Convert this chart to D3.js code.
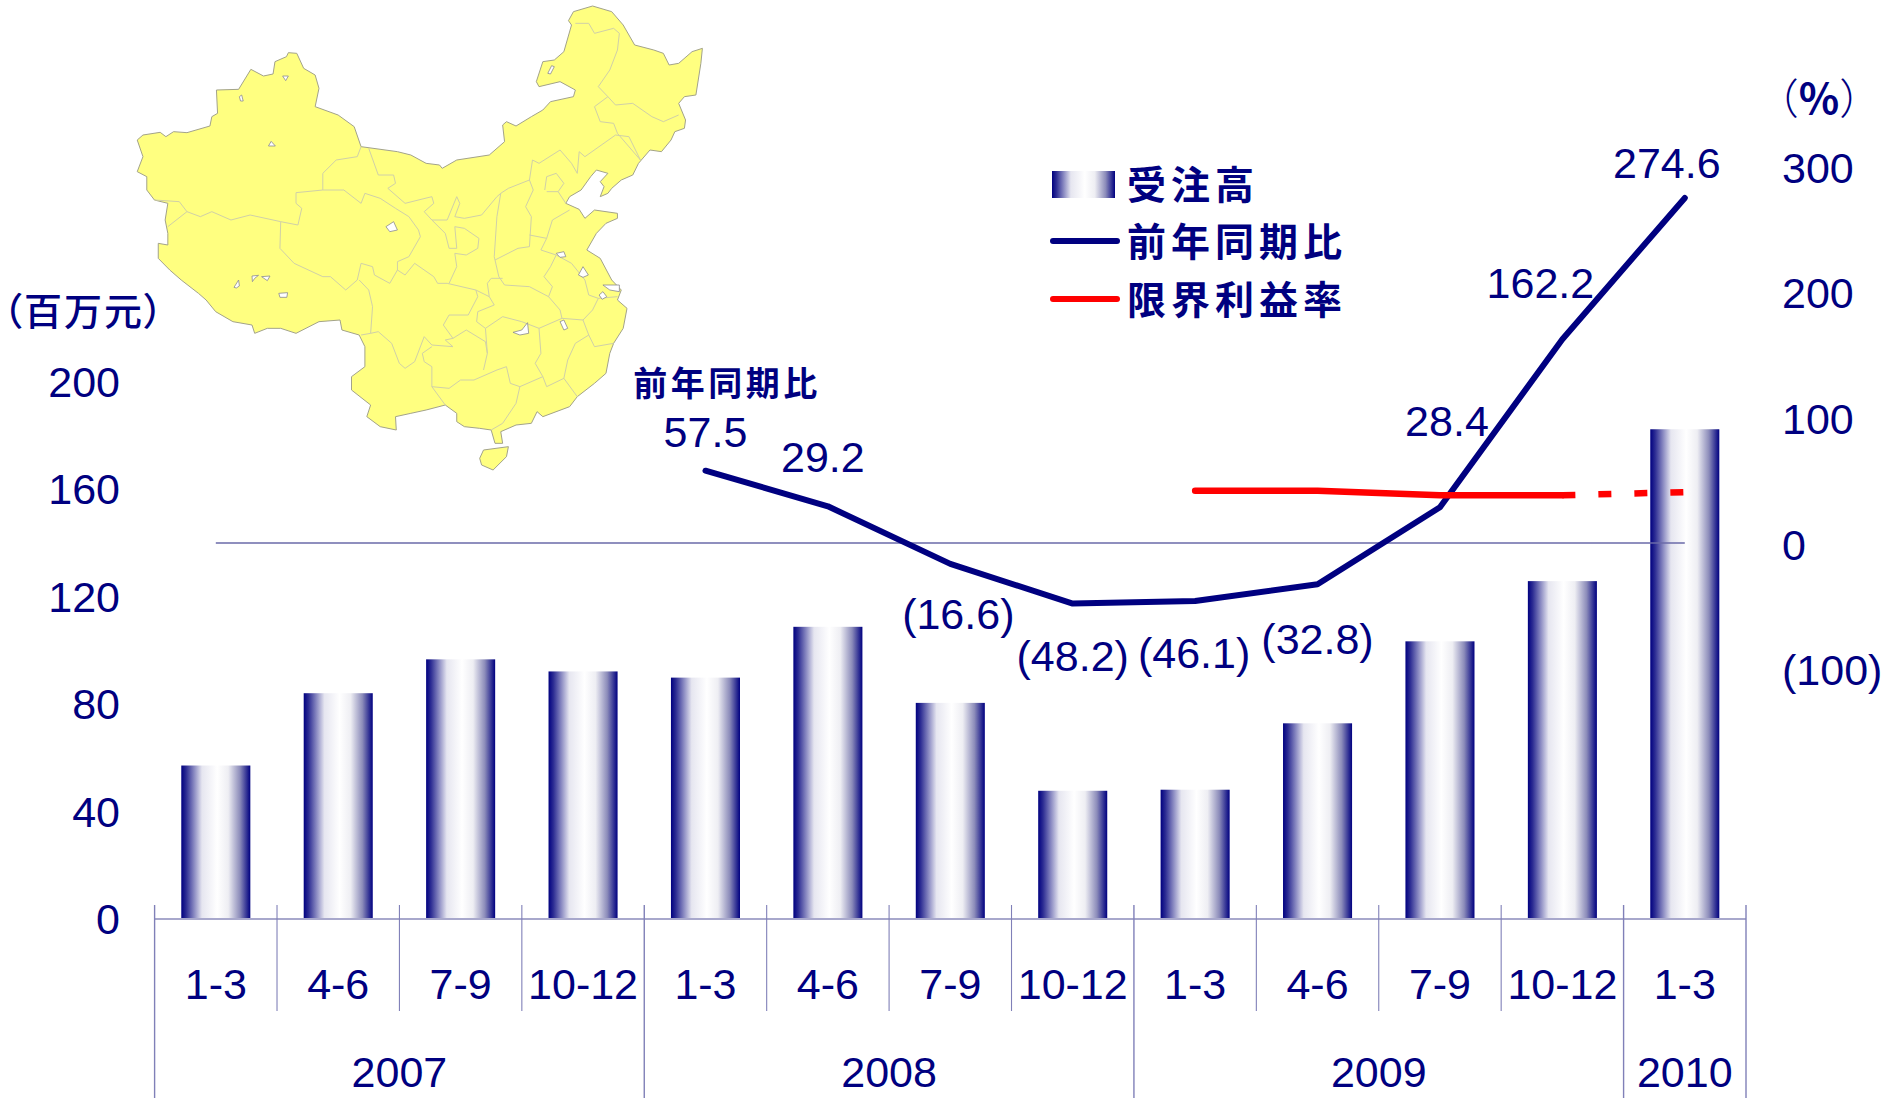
<!DOCTYPE html>
<html>
<head>
<meta charset="utf-8">
<script src="https://cdn.jsdelivr.net/npm/d3@7"></script>
<style>
  html, body { margin: 0; padding: 0; background: #fff; }
  svg { display: block; }
  text { font-family: "Liberation Sans", Arial, sans-serif; fill: #000080; }
  .cjk { font-family: "Noto Sans CJK JP", sans-serif; }
</style>
</head>
<body>
<div id="chart"></div>
<script>
// data
const quarters = ["1-3","4-6","7-9","10-12","1-3","4-6","7-9","10-12","1-3","4-6","7-9","10-12","1-3"];
const years = ["2007","2008","2009","2010"];
const yearSpans = [4, 4, 4, 1];
const orders = [57.1, 84, 96.6, 92.1, 89.8, 108.7, 80.4, 47.7, 48.1, 72.8, 103.3, 125.7, 182.2];
const yoy = [null, null, null, null, 57.5, 29.2, -16.6, -48.2, -46.1, -32.8, 28.4, 162.2, 274.6];
const margin = [null, null, null, null, null, null, null, null, 41.6, 41.6, 38, 38, 40.5];
const leftTicks = [0, 40, 80, 120, 160, 200];
const rightTicks = [-100, 0, 100, 200, 300];
const legendNames = ["受注高", "前年同期比", "限界利益率"];

// label placement relative to its point, [dx, dy]
const yoyLabelOffsets = [null, null, null, null, [0,-39], [-5,-49], [8,50], [0,52], [-1,52], [0,55], [7,-86], [-22,-56], [-18,-35]];

// map outline (crop units)
const mapOutline = [[45,420],[60,405],[105,397],[120,410],[140,395],[175,398],[235,378],[240,350],[255,340],[252,270],[310,268],[342,208],[375,228],[400,222],[405,185],[435,170],[440,158],[462,160],[480,205],[510,225],[520,265],[510,320],[570,345],[612,380],[630,440],[725,455],[760,465],[800,490],[835,495],[842,505],[880,480],[965,465],[1005,425],[1000,375],[1010,365],[1035,378],[1075,350],[1105,330],[1125,305],[1185,290],[1190,270],[1150,245],[1095,260],[1088,245],[1105,185],[1135,180],[1160,155],[1180,75],[1172,62],[1185,35],[1235,18],[1285,35],[1315,75],[1345,135],[1395,150],[1420,160],[1435,195],[1460,190],[1495,155],[1522,145],[1518,190],[1505,285],[1475,290],[1460,310],[1478,360],[1475,385],[1450,395],[1440,420],[1415,455],[1385,450],[1355,490],[1340,525],[1310,540],[1285,565],[1275,580],[1255,590],[1265,560],[1255,545],[1275,520],[1245,510],[1230,530],[1205,570],[1175,590],[1165,610],[1200,628],[1215,655],[1240,630],[1300,640],[1300,655],[1270,670],[1245,700],[1220,750],[1255,775],[1285,840],[1310,870],[1300,900],[1325,925],[1315,985],[1290,1030],[1280,1060],[1270,1120],[1240,1150],[1195,1190],[1175,1220],[1105,1250],[1090,1235],[1075,1270],[1035,1275],[995,1295],[1000,1330],[980,1330],[970,1290],[940,1285],[900,1280],[880,1265],[880,1240],[850,1215],[800,1230],[760,1240],[720,1250],[722,1290],[680,1280],[645,1250],[655,1215],[605,1170],[605,1130],[640,1100],[640,1040],[625,1005],[580,990],[575,960],[520,965],[460,1000],[420,985],[385,985],[352,1000],[345,975],[295,965],[250,935],[225,900],[205,880],[160,840],[130,810],[100,775],[100,730],[125,735],[125,700],[118,660],[125,610],[90,600],[70,570],[70,530],[45,515],[60,470]];
const mapHainan = [[940,1375],[950,1350],[1015,1340],[1010,1370],[975,1410],[945,1395]];
const mapLakes = [
  [[695,680],[715,665],[725,690],[705,695]],
  [[298,862],[310,840],[312,858],[304,864]],
  [[346,845],[345,828],[362,826],[352,835]],
  [[370,830],[392,828],[385,842]],
  [[415,880],[438,878],[436,892],[418,892]],
  [[388,438],[395,424],[406,438]],
  [[425,228],[440,228],[433,242]],
  [[312,290],[318,285],[322,303],[315,303]],
  [[1118,220],[1128,197],[1135,200],[1125,222]],
  [[1027,997],[1050,990],[1065,968],[1068,1000],[1045,1005]],
  [[1150,965],[1160,960],[1170,985],[1160,990]],
  [[1198,825],[1210,800],[1224,825],[1210,832]],
  [[1252,885],[1262,875],[1272,890],[1260,898]],
  [[1140,760],[1160,755],[1165,770],[1150,772]],
  [[1262,855],[1305,855],[1305,875],[1280,870]]
];
const mapBorders = [
  [[90,600],[155,605],[175,635],[210,650],[240,635],[290,660],[340,645],[420,665],[465,675],[475,625],[460,610],[460,578],[530,570],[585,570],[630,610],[640,580],[680,595],[720,625],[755,650],[780,690],[785,710],[755,770],[725,785],[725,810],[745,825],[770,790],[820,830],[830,850],[855,850]],
  [[175,635],[125,680]],
  [[530,570],[530,520],[565,480],[620,470],[630,440]],
  [[650,445],[675,525],[715,525],[720,550],[700,565],[745,610],[815,590],[820,610],[795,635],[815,660],[855,660],[880,590],[888,610],[875,650],[900,655],[945,645],[985,590],[995,580],[1015,565],[1070,540],[1078,480],[1095,490],[1150,450],[1180,490],[1195,520],[1200,455],[1215,470],[1295,405],[1330,410],[1360,480]],
  [[815,660],[850,700],[860,745],[880,745],[875,680],[900,685],[938,715],[935,745],[905,765],[875,760],[880,800],[860,850]],
  [[420,665],[418,745],[455,790],[530,830],[550,830],[590,870],[620,840],[630,790],[660,800],[665,825],[705,850],[725,810]],
  [[625,840],[650,870],[660,920],[655,1000],[630,1005]],
  [[655,1000],[675,995],[710,1030],[730,1090],[745,1105],[770,1085],[795,1010],[815,1035],[870,1040],[850,1020],[870,1015],[905,990],[955,1025],[960,1060]],
  [[815,1040],[790,1060],[795,1085],[815,1100],[815,1160],[860,1165],[890,1140],[925,1140],[985,1110],[1010,1100],[1020,1150],[1045,1160],[1035,1210],[1000,1270],[970,1290]],
  [[815,1160],[850,1215]],
  [[855,850],[930,870],[935,890],[910,945],[860,945],[845,975],[870,1015]],
  [[930,870],[965,890],[978,915],[935,935],[932,965],[955,985],[960,1060],[950,1110]],
  [[995,580],[985,650],[978,770],[990,830],[1005,855],[1070,860],[1120,890]],
  [[965,890],[960,850],[970,835],[1000,835]],
  [[980,780],[1040,745],[1070,740],[1075,650],[1060,620],[1080,570],[1070,540]],
  [[1070,705],[1115,715],[1130,660],[1175,630]],
  [[1115,715],[1100,750],[1140,765],[1180,790],[1215,840],[1225,885],[1250,895],[1300,890]],
  [[1140,765],[1125,800],[1108,830],[1130,860],[1120,890],[1150,930],[1155,955],[1210,960],[1235,930],[1250,895]],
  [[955,985],[1000,950],[1050,965],[1095,985],[1155,955]],
  [[1095,985],[1100,1060],[1085,1090],[1105,1130],[1045,1160]],
  [[1105,1130],[1115,1160],[1160,1135],[1195,1190]],
  [[1210,960],[1225,1005],[1240,1040],[1290,1030]],
  [[1225,1005],[1190,1030],[1170,1080],[1160,1135]],
  [[1110,570],[1115,530],[1140,520],[1160,550],[1145,575],[1115,575]],
  [[1145,575],[1165,610]],
  [[1240,320],[1255,365],[1290,370],[1300,400],[1360,480]],
  [[1240,320],[1275,290],[1295,315],[1340,310],[1390,350],[1420,365],[1460,345]],
  [[1275,290],[1250,260],[1280,210],[1300,150],[1305,100],[1290,85],[1240,100],[1225,70],[1190,70]]
];

// canvas
const W = 1890, H = 1098;
const svg = d3.select("#chart").append("svg").attr("width", W).attr("height", H);

// gradient for bars
const grad = svg.append("defs").append("linearGradient").attr("id", "barGrad")
  .attr("x1", 0).attr("x2", 1).attr("y1", 0).attr("y2", 0);
[[0, "#000080"], [0.07, "#2c2c93"], [0.3, "#e6e6f0"], [0.52, "#ffffff"], [0.68, "#eeeef3"], [0.85, "#8c8cba"], [1, "#000080"]]
  .forEach(([o, c]) => grad.append("stop").attr("offset", o).attr("stop-color", c));

// scales
const keys = quarters.map((q, i) => i);
const x = d3.scaleBand().domain(keys).range([154.6, 1746]).paddingInner(0.436).paddingOuter(0.218);
const yLeft = d3.scaleLinear().domain([0, 200]).range([919, 381.4]);
const yRight = d3.scaleLinear().domain([0, 300]).range([543, 166]);
const cx = i => x(i) + x.bandwidth() / 2;

// map
const mapX = d3.scaleLinear().domain([0, 1568]).range([120, 720]);
const mapY = d3.scaleLinear().domain([0, 1440]).range([0, 480]);
const mapLine = d3.line().x(d => mapX(d[0])).y(d => mapY(d[1]));
const mapG = svg.append("g");
[mapOutline, mapHainan].forEach(p => {
  mapG.append("path").attr("d", mapLine(p) + "Z")
    .attr("fill", "#ffff80").attr("stroke", "#a3a38a").attr("stroke-width", 1);
});
mapG.selectAll(".border").data(mapBorders).enter().append("path")
  .attr("class", "border").attr("d", mapLine)
  .attr("fill", "none").attr("stroke", "#d0d0a8").attr("stroke-width", 1);
mapG.selectAll(".lake").data(mapLakes).enter().append("path")
  .attr("class", "lake").attr("d", d => mapLine(d) + "Z")
  .attr("fill", "#fff").attr("stroke", "#8a8a90").attr("stroke-width", 0.8);

// bars
svg.selectAll(".bar").data(orders).enter().append("rect")
  .attr("class", "bar")
  .attr("x", (d, i) => x(i))
  .attr("width", x.bandwidth())
  .attr("y", d => yLeft(d))
  .attr("height", d => yLeft(0) - yLeft(d))
  .attr("fill", "url(#barGrad)");

// baseline + category ticks
const axisColor = "#8080b8";
svg.append("line").attr("x1", x.range()[0]).attr("x2", x.range()[1])
  .attr("y1", yLeft(0)).attr("y2", yLeft(0))
  .attr("stroke", "#a8a8cc").attr("stroke-width", 2);

const step = x.step();
const x0 = x.range()[0];
let running = 0;
const yearEdges = [0];
yearSpans.forEach(s => { running += s; yearEdges.push(running); });
d3.range(quarters.length + 1).forEach(i => {
  const long = yearEdges.includes(i);
  svg.append("line")
    .attr("x1", x0 + i * step).attr("x2", x0 + i * step)
    .attr("y1", 905).attr("y2", long ? H : 1011)
    .attr("stroke", axisColor).attr("stroke-width", long ? 1.4 : 1.1);
});

// category labels
svg.selectAll(".q").data(quarters).enter().append("text")
  .attr("class", "q")
  .attr("x", (d, i) => cx(i))
  .attr("y", 999)
  .attr("text-anchor", "middle")
  .attr("font-size", 43)
  .text(d => d);
svg.selectAll(".yr").data(years).enter().append("text")
  .attr("class", "yr")
  .attr("x", (d, i) => x0 + (yearEdges[i] + yearEdges[i + 1]) / 2 * step)
  .attr("y", 1087)
  .attr("text-anchor", "middle")
  .attr("font-size", 43)
  .text(d => d);

// left axis
const leftAxis = svg.append("g").attr("transform", "translate(120,0)")
  .call(d3.axisLeft(yLeft).tickValues(leftTicks).tickSize(0).tickPadding(0));
leftAxis.select(".domain").remove();
leftAxis.selectAll("text").attr("font-size", 43).attr("font-family", null).attr("dy", "0.345em");

// right axis
const rightAxis = svg.append("g").attr("transform", "translate(1782,0)")
  .call(d3.axisRight(yRight).tickValues(rightTicks).tickSize(0).tickPadding(0)
    .tickFormat(d => d < 0 ? `(${-d})` : d));
rightAxis.select(".domain").remove();
rightAxis.selectAll("text").attr("font-size", 43).attr("font-family", null).attr("dy", "0.377em");

// zero line of the right axis
svg.append("line").attr("x1", cx(0)).attr("x2", cx(12))
  .attr("y1", yRight(0)).attr("y2", yRight(0))
  .attr("stroke", "#6a6aa8").attr("stroke-width", 1.6);

// lines
const line = d3.line().defined(d => d.v !== null).x(d => cx(d.i)).y(d => yRight(d.v));
const yoyPts = yoy.map((v, i) => ({ i, v }));
const marginPts = margin.map((v, i) => ({ i, v }));

svg.append("path").attr("d", line(yoyPts))
  .attr("fill", "none").attr("stroke", "#000080").attr("stroke-width", 6)
  .attr("stroke-linecap", "round").attr("stroke-linejoin", "round");
svg.append("path").attr("d", line(marginPts.slice(0, 12)))
  .attr("fill", "none").attr("stroke", "#ff0000").attr("stroke-width", 6.5)
  .attr("stroke-linecap", "round").attr("stroke-linejoin", "round");
svg.append("path").attr("d", line(marginPts.slice(11)))
  .attr("fill", "none").attr("stroke", "#ff0000").attr("stroke-width", 6.5)
  .attr("stroke-dasharray", "13 23");

// value labels
yoy.forEach((v, i) => {
  if (v === null) return;
  const [dx, dy] = yoyLabelOffsets[i];
  svg.append("text")
    .attr("x", cx(i) + dx)
    .attr("y", yRight(v) + dy + 15)
    .attr("text-anchor", "middle")
    .attr("font-size", 43)
    .text(v < 0 ? `(${-v})` : v);
});

// unit labels
svg.append("text").attr("class", "cjk").attr("x", 84).attr("y", 325)
  .attr("text-anchor", "middle").attr("font-size", 38).attr("font-weight", 500)
  .attr("letter-spacing", 2)
  .style("font-feature-settings", '"palt"')
  .text("（百万元）");
const pct = svg.append("text").attr("class", "cjk").attr("x", 1819).attr("y", 114)
  .attr("text-anchor", "middle").attr("font-size", 42);
pct.append("tspan").attr("font-weight", 300).text("（");
pct.append("tspan").attr("font-weight", 700).text("%");
pct.append("tspan").attr("font-weight", 300).text("）");
svg.append("text").attr("class", "cjk").attr("x", 727).attr("y", 396)
  .attr("text-anchor", "middle").attr("font-size", 34).attr("font-weight", 700)
  .attr("letter-spacing", 3.5)
  .text("前年同期比");

// legend
const legendY = [184, 241, 299];
svg.append("rect").attr("x", 1052).attr("y", 171).attr("width", 63).attr("height", 27)
  .attr("fill", "url(#barGrad)");
svg.append("line").attr("x1", 1053).attr("x2", 1117).attr("y1", legendY[1]).attr("y2", legendY[1])
  .attr("stroke", "#000080").attr("stroke-width", 6).attr("stroke-linecap", "round");
svg.append("line").attr("x1", 1053).attr("x2", 1117).attr("y1", legendY[2]).attr("y2", legendY[2])
  .attr("stroke", "#ff0000").attr("stroke-width", 6).attr("stroke-linecap", "round");
svg.selectAll(".lg").data(legendNames).enter().append("text")
  .attr("class", "lg cjk")
  .attr("x", 1127)
  .attr("y", (d, i) => legendY[i] + 15)
  .attr("font-size", 39).attr("font-weight", 700)
  .attr("letter-spacing", 5)
  .text(d => d);
</script>
</body>
</html>
